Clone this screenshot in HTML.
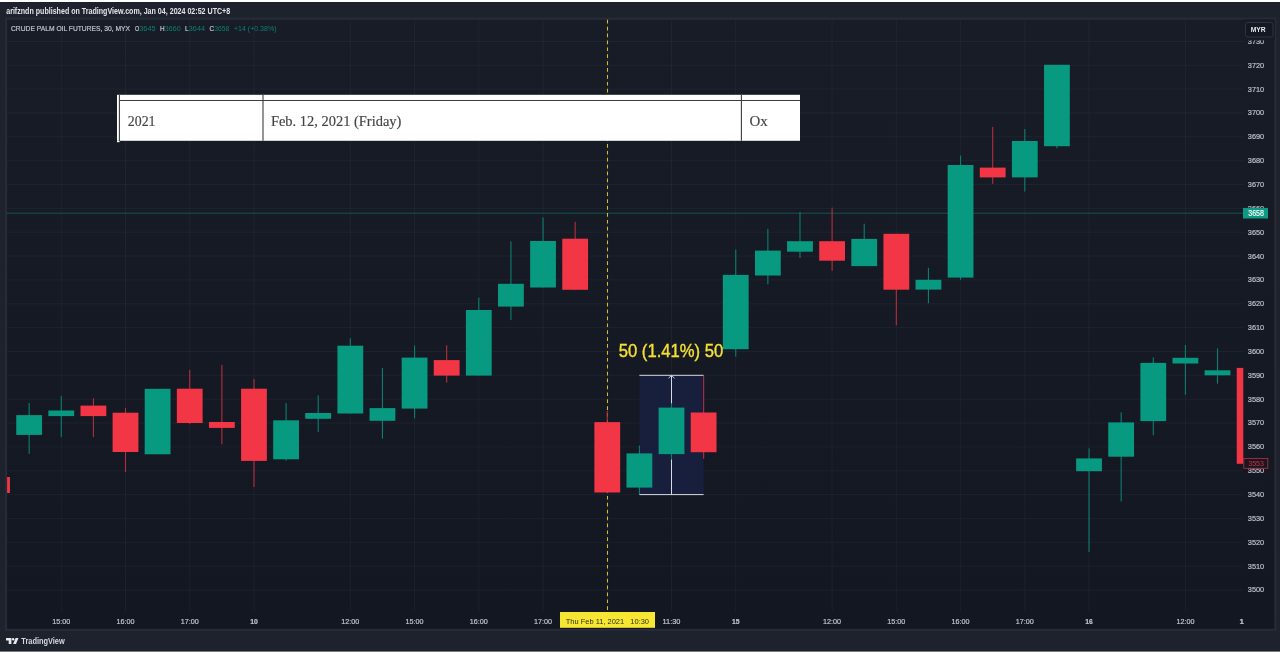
<!DOCTYPE html>
<html lang="en"><head><meta charset="utf-8"><title>CRUDE PALM OIL FUTURES chart</title>
<style>html,body{margin:0;padding:0;background:#fff;width:1280px;height:654px;overflow:hidden}svg{display:block;will-change:transform}text{font-family:"Liberation Sans",sans-serif}.ser{font-family:"Liberation Serif",serif}</style></head><body>
<svg width="1280" height="654" viewBox="0 0 1280 654">
<rect x="0" y="2" width="1280" height="649.6" fill="#1e222d"/>
<defs><linearGradient id="bgg" x1="0" y1="0" x2="0" y2="1"><stop offset="0" stop-color="#181c27"/><stop offset="1" stop-color="#131722"/></linearGradient></defs>
<rect x="6.1" y="18.8" width="1269.2" height="611.0" fill="url(#bgg)" stroke="#282c38" stroke-width="2"/>
<defs><clipPath id="cp"><rect x="7.1" y="19.8" width="1236.2" height="609.0"/></clipPath></defs>
<g stroke="#8a93b0" stroke-opacity="0.075" stroke-width="1">
<line x1="7.1" x2="1243.3" y1="590.0" y2="590.0"/>
<line x1="7.1" x2="1243.3" y1="566.1" y2="566.1"/>
<line x1="7.1" x2="1243.3" y1="542.3" y2="542.3"/>
<line x1="7.1" x2="1243.3" y1="518.4" y2="518.4"/>
<line x1="7.1" x2="1243.3" y1="494.6" y2="494.6"/>
<line x1="7.1" x2="1243.3" y1="470.8" y2="470.8"/>
<line x1="7.1" x2="1243.3" y1="446.9" y2="446.9"/>
<line x1="7.1" x2="1243.3" y1="423.0" y2="423.0"/>
<line x1="7.1" x2="1243.3" y1="399.2" y2="399.2"/>
<line x1="7.1" x2="1243.3" y1="375.3" y2="375.3"/>
<line x1="7.1" x2="1243.3" y1="351.5" y2="351.5"/>
<line x1="7.1" x2="1243.3" y1="327.6" y2="327.6"/>
<line x1="7.1" x2="1243.3" y1="303.8" y2="303.8"/>
<line x1="7.1" x2="1243.3" y1="279.9" y2="279.9"/>
<line x1="7.1" x2="1243.3" y1="256.1" y2="256.1"/>
<line x1="7.1" x2="1243.3" y1="232.2" y2="232.2"/>
<line x1="7.1" x2="1243.3" y1="208.4" y2="208.4"/>
<line x1="7.1" x2="1243.3" y1="184.5" y2="184.5"/>
<line x1="7.1" x2="1243.3" y1="160.7" y2="160.7"/>
<line x1="7.1" x2="1243.3" y1="136.8" y2="136.8"/>
<line x1="7.1" x2="1243.3" y1="113.0" y2="113.0"/>
<line x1="7.1" x2="1243.3" y1="89.1" y2="89.1"/>
<line x1="7.1" x2="1243.3" y1="65.3" y2="65.3"/>
<line x1="7.1" x2="1243.3" y1="41.5" y2="41.5"/>
<line x1="61.3" x2="61.3" y1="19.8" y2="611.3"/>
<line x1="125.5" x2="125.5" y1="19.8" y2="611.3"/>
<line x1="189.7" x2="189.7" y1="19.8" y2="611.3"/>
<line x1="254.0" x2="254.0" y1="19.8" y2="611.3"/>
<line x1="350.3" x2="350.3" y1="19.8" y2="611.3"/>
<line x1="414.6" x2="414.6" y1="19.8" y2="611.3"/>
<line x1="478.8" x2="478.8" y1="19.8" y2="611.3"/>
<line x1="543.0" x2="543.0" y1="19.8" y2="611.3"/>
<line x1="671.5" x2="671.5" y1="19.8" y2="611.3"/>
<line x1="735.7" x2="735.7" y1="19.8" y2="611.3"/>
<line x1="832.1" x2="832.1" y1="19.8" y2="611.3"/>
<line x1="896.3" x2="896.3" y1="19.8" y2="611.3"/>
<line x1="960.6" x2="960.6" y1="19.8" y2="611.3"/>
<line x1="1024.8" x2="1024.8" y1="19.8" y2="611.3"/>
<line x1="1089.0" x2="1089.0" y1="19.8" y2="611.3"/>
<line x1="1185.4" x2="1185.4" y1="19.8" y2="611.3"/>
<line x1="607.3" x2="607.3" y1="19.8" y2="611.3"/>
</g>
<line x1="6.6" x2="1243.3" y1="213.2" y2="213.2" stroke="#10554f" stroke-width="1"/>
<rect x="639.4" y="375.3" width="64.2" height="119.2" fill="#181f3d"/>
<line x1="607.5" x2="607.5" y1="19.8" y2="612" stroke="#d6bf2c" stroke-width="1.05" stroke-dasharray="3.7 3.2"/>
<g clip-path="url(#cp)">
<rect x="-15.87" y="477.0" width="25.8" height="16.0" fill="#f23645"/>
<rect x="28.60" y="403.0" width="1.1" height="50.8" fill="#0b7f6e"/>
<rect x="16.25" y="415.1" width="25.8" height="19.8" fill="#089981"/>
<rect x="60.72" y="395.8" width="1.1" height="41.3" fill="#0b7f6e"/>
<rect x="48.37" y="410.5" width="25.8" height="5.6" fill="#089981"/>
<rect x="92.84" y="398.2" width="1.1" height="38.9" fill="#b42e3c"/>
<rect x="80.49" y="405.6" width="25.8" height="10.5" fill="#f23645"/>
<rect x="124.95" y="408.0" width="1.1" height="64.1" fill="#b42e3c"/>
<rect x="112.60" y="412.7" width="25.8" height="39.3" fill="#f23645"/>
<rect x="144.72" y="388.8" width="25.8" height="65.5" fill="#089981"/>
<rect x="189.19" y="369.9" width="1.1" height="54.3" fill="#b42e3c"/>
<rect x="176.84" y="388.7" width="25.8" height="34.3" fill="#f23645"/>
<rect x="221.31" y="365.0" width="1.1" height="79.3" fill="#b42e3c"/>
<rect x="208.96" y="422.0" width="25.8" height="5.9" fill="#f23645"/>
<rect x="253.43" y="378.9" width="1.1" height="108.1" fill="#b42e3c"/>
<rect x="241.08" y="388.7" width="25.8" height="72.2" fill="#f23645"/>
<rect x="285.54" y="403.0" width="1.1" height="57.7" fill="#0b7f6e"/>
<rect x="273.19" y="420.3" width="25.8" height="39.0" fill="#089981"/>
<rect x="317.66" y="395.4" width="1.1" height="36.6" fill="#0b7f6e"/>
<rect x="305.31" y="413.0" width="25.8" height="5.8" fill="#089981"/>
<rect x="349.78" y="338.3" width="1.1" height="75.2" fill="#0b7f6e"/>
<rect x="337.43" y="345.7" width="25.8" height="67.8" fill="#089981"/>
<rect x="381.90" y="368.0" width="1.1" height="70.7" fill="#0b7f6e"/>
<rect x="369.55" y="408.1" width="25.8" height="12.7" fill="#089981"/>
<rect x="414.02" y="345.5" width="1.1" height="72.8" fill="#0b7f6e"/>
<rect x="401.67" y="357.6" width="25.8" height="51.0" fill="#089981"/>
<rect x="446.13" y="345.3" width="1.1" height="37.4" fill="#b42e3c"/>
<rect x="433.78" y="360.1" width="25.8" height="15.5" fill="#f23645"/>
<rect x="478.25" y="297.6" width="1.1" height="78.0" fill="#0b7f6e"/>
<rect x="465.90" y="310.0" width="25.8" height="65.6" fill="#089981"/>
<rect x="510.37" y="241.4" width="1.1" height="78.7" fill="#0b7f6e"/>
<rect x="498.02" y="283.8" width="25.8" height="22.8" fill="#089981"/>
<rect x="542.49" y="217.5" width="1.1" height="70.0" fill="#0b7f6e"/>
<rect x="530.14" y="241.0" width="25.8" height="46.5" fill="#089981"/>
<rect x="574.61" y="221.9" width="1.1" height="67.9" fill="#b42e3c"/>
<rect x="562.26" y="238.7" width="25.8" height="51.1" fill="#f23645"/>
<rect x="606.72" y="410.6" width="1.1" height="81.9" fill="#b42e3c"/>
<rect x="594.37" y="422.1" width="25.8" height="70.4" fill="#f23645"/>
<rect x="638.84" y="445.6" width="1.1" height="48.7" fill="#0b7f6e"/>
<rect x="626.49" y="453.4" width="25.8" height="34.2" fill="#089981"/>
<rect x="670.96" y="403.0" width="1.1" height="56.5" fill="#0b7f6e"/>
<rect x="658.61" y="407.6" width="25.8" height="46.5" fill="#089981"/>
<rect x="703.08" y="376.0" width="1.1" height="82.8" fill="#b42e3c"/>
<rect x="690.73" y="412.5" width="25.8" height="39.7" fill="#f23645"/>
<rect x="735.20" y="249.6" width="1.1" height="107.0" fill="#0b7f6e"/>
<rect x="722.85" y="274.9" width="25.8" height="74.3" fill="#089981"/>
<rect x="767.31" y="228.8" width="1.1" height="55.5" fill="#0b7f6e"/>
<rect x="754.96" y="250.6" width="25.8" height="24.9" fill="#089981"/>
<rect x="799.43" y="212.0" width="1.1" height="46.0" fill="#0b7f6e"/>
<rect x="787.08" y="241.2" width="25.8" height="10.5" fill="#089981"/>
<rect x="831.55" y="207.6" width="1.1" height="63.2" fill="#b42e3c"/>
<rect x="819.20" y="241.2" width="25.8" height="19.5" fill="#f23645"/>
<rect x="863.67" y="223.7" width="1.1" height="42.4" fill="#0b7f6e"/>
<rect x="851.32" y="238.9" width="25.8" height="27.2" fill="#089981"/>
<rect x="895.79" y="233.8" width="1.1" height="91.5" fill="#b42e3c"/>
<rect x="883.44" y="233.8" width="25.8" height="55.9" fill="#f23645"/>
<rect x="927.90" y="267.8" width="1.1" height="35.5" fill="#0b7f6e"/>
<rect x="915.55" y="279.8" width="25.8" height="9.8" fill="#089981"/>
<rect x="960.02" y="155.6" width="1.1" height="124.2" fill="#0b7f6e"/>
<rect x="947.67" y="165.0" width="25.8" height="112.6" fill="#089981"/>
<rect x="992.14" y="126.9" width="1.1" height="57.0" fill="#b42e3c"/>
<rect x="979.79" y="167.6" width="25.8" height="9.8" fill="#f23645"/>
<rect x="1024.26" y="129.0" width="1.1" height="62.6" fill="#0b7f6e"/>
<rect x="1011.91" y="141.0" width="25.8" height="36.4" fill="#089981"/>
<rect x="1056.38" y="64.8" width="1.1" height="83.5" fill="#0b7f6e"/>
<rect x="1044.03" y="64.8" width="25.8" height="81.4" fill="#089981"/>
<rect x="1088.49" y="448.3" width="1.1" height="103.6" fill="#0b7f6e"/>
<rect x="1076.14" y="458.4" width="25.8" height="12.8" fill="#089981"/>
<rect x="1120.61" y="412.3" width="1.1" height="89.2" fill="#0b7f6e"/>
<rect x="1108.26" y="422.4" width="25.8" height="34.3" fill="#089981"/>
<rect x="1152.73" y="357.5" width="1.1" height="77.7" fill="#0b7f6e"/>
<rect x="1140.38" y="362.9" width="25.8" height="58.2" fill="#089981"/>
<rect x="1184.85" y="345.0" width="1.1" height="49.8" fill="#0b7f6e"/>
<rect x="1172.50" y="357.8" width="25.8" height="5.7" fill="#089981"/>
<rect x="1216.97" y="348.4" width="1.1" height="35.3" fill="#0b7f6e"/>
<rect x="1204.62" y="370.3" width="25.8" height="5.0" fill="#089981"/>
<rect x="1236.73" y="367.9" width="25.8" height="95.9" fill="#f23645"/>
</g>
<g stroke="#d9dbe0" stroke-width="1" fill="none"><line x1="639.4" x2="703.6" y1="375.3" y2="375.3"/><line x1="639.4" x2="703.6" y1="494.6" y2="494.6"/><line x1="671.5" x2="671.5" y1="375.3" y2="403.3"/><line x1="671.5" x2="671.5" y1="459.5" y2="494.6"/><path d="M668.5 378.3 L671.5 375.3 L674.5 378.3"/></g>
<text x="671" y="356.6" font-size="17.6" fill="#f5e033" stroke="#f5e033" stroke-width="0.35" text-anchor="middle" textLength="104.6" lengthAdjust="spacingAndGlyphs">50 (1.41%) 50</text>
<g font-size="8.1" fill="#bdc0c9" stroke="#bdc0c9" stroke-width="0.2" text-anchor="middle">
<text x="1256" y="592.4" textLength="16.4" lengthAdjust="spacingAndGlyphs">3500</text>
<text x="1256" y="568.5" textLength="16.4" lengthAdjust="spacingAndGlyphs">3510</text>
<text x="1256" y="544.7" textLength="16.4" lengthAdjust="spacingAndGlyphs">3520</text>
<text x="1256" y="520.8" textLength="16.4" lengthAdjust="spacingAndGlyphs">3530</text>
<text x="1256" y="497.0" textLength="16.4" lengthAdjust="spacingAndGlyphs">3540</text>
<text x="1256" y="473.1" textLength="16.4" lengthAdjust="spacingAndGlyphs">3550</text>
<text x="1256" y="449.3" textLength="16.4" lengthAdjust="spacingAndGlyphs">3560</text>
<text x="1256" y="425.4" textLength="16.4" lengthAdjust="spacingAndGlyphs">3570</text>
<text x="1256" y="401.6" textLength="16.4" lengthAdjust="spacingAndGlyphs">3580</text>
<text x="1256" y="377.7" textLength="16.4" lengthAdjust="spacingAndGlyphs">3590</text>
<text x="1256" y="353.9" textLength="16.4" lengthAdjust="spacingAndGlyphs">3600</text>
<text x="1256" y="330.0" textLength="16.4" lengthAdjust="spacingAndGlyphs">3610</text>
<text x="1256" y="306.2" textLength="16.4" lengthAdjust="spacingAndGlyphs">3620</text>
<text x="1256" y="282.3" textLength="16.4" lengthAdjust="spacingAndGlyphs">3630</text>
<text x="1256" y="258.5" textLength="16.4" lengthAdjust="spacingAndGlyphs">3640</text>
<text x="1256" y="234.7" textLength="16.4" lengthAdjust="spacingAndGlyphs">3650</text>
<text x="1256" y="210.8" textLength="16.4" lengthAdjust="spacingAndGlyphs">3660</text>
<text x="1256" y="186.9" textLength="16.4" lengthAdjust="spacingAndGlyphs">3670</text>
<text x="1256" y="163.1" textLength="16.4" lengthAdjust="spacingAndGlyphs">3680</text>
<text x="1256" y="139.2" textLength="16.4" lengthAdjust="spacingAndGlyphs">3690</text>
<text x="1256" y="115.4" textLength="16.4" lengthAdjust="spacingAndGlyphs">3700</text>
<text x="1256" y="91.5" textLength="16.4" lengthAdjust="spacingAndGlyphs">3710</text>
<text x="1256" y="67.7" textLength="16.4" lengthAdjust="spacingAndGlyphs">3720</text>
<text x="1256" y="43.9" textLength="16.4" lengthAdjust="spacingAndGlyphs">3730</text>
</g>
<rect x="1243.3" y="19.2" width="31.5" height="21.1" fill="#181c27"/>
<rect x="1245.5" y="22.5" width="27.5" height="14.5" rx="2.5" fill="#141823" stroke="#2e3340" stroke-width="1"/>
<text x="1258.2" y="32.4" font-size="7.4" font-weight="bold" fill="#e6e8ee" text-anchor="middle" textLength="15" lengthAdjust="spacingAndGlyphs">MYR</text>
<rect x="1243" y="207.9" width="25" height="10.6" fill="#0d9b83"/>
<text x="1256.1" y="215.9" font-size="8.2" fill="#ffffff" stroke="#fff" stroke-width="0.15" text-anchor="middle" textLength="15.8" lengthAdjust="spacingAndGlyphs">3658</text>
<rect x="1243.8" y="458.5" width="24" height="9.8" fill="#141823" stroke="#b32a3a" stroke-width="0.9"/>
<text x="1256.1" y="466.3" font-size="8" fill="#d83043" text-anchor="middle" textLength="15.8" lengthAdjust="spacingAndGlyphs">3553</text>
<g font-size="8" fill="#c3c6ce" stroke="#c3c6ce" stroke-width="0.2" text-anchor="middle">
<text x="61.3" y="623.9" textLength="18" lengthAdjust="spacingAndGlyphs">15:00</text>
<text x="125.5" y="623.9" textLength="18" lengthAdjust="spacingAndGlyphs">16:00</text>
<text x="189.7" y="623.9" textLength="18" lengthAdjust="spacingAndGlyphs">17:00</text>
<text x="254.0" y="623.9" font-weight="bold" textLength="7.6" lengthAdjust="spacingAndGlyphs">10</text>
<text x="350.3" y="623.9" textLength="18" lengthAdjust="spacingAndGlyphs">12:00</text>
<text x="414.6" y="623.9" textLength="18" lengthAdjust="spacingAndGlyphs">15:00</text>
<text x="478.8" y="623.9" textLength="18" lengthAdjust="spacingAndGlyphs">16:00</text>
<text x="543.0" y="623.9" textLength="18" lengthAdjust="spacingAndGlyphs">17:00</text>
<text x="671.5" y="623.9" textLength="18" lengthAdjust="spacingAndGlyphs">11:30</text>
<text x="735.7" y="623.9" font-weight="bold" textLength="7.6" lengthAdjust="spacingAndGlyphs">15</text>
<text x="832.1" y="623.9" textLength="18" lengthAdjust="spacingAndGlyphs">12:00</text>
<text x="896.3" y="623.9" textLength="18" lengthAdjust="spacingAndGlyphs">15:00</text>
<text x="960.6" y="623.9" textLength="18" lengthAdjust="spacingAndGlyphs">16:00</text>
<text x="1024.8" y="623.9" textLength="18" lengthAdjust="spacingAndGlyphs">17:00</text>
<text x="1089.0" y="623.9" font-weight="bold" textLength="7.6" lengthAdjust="spacingAndGlyphs">16</text>
<text x="1185.4" y="623.9" textLength="18" lengthAdjust="spacingAndGlyphs">12:00</text>
<text x="1241.7" y="623.9" font-weight="bold">1</text>
</g>
<rect x="560" y="612" width="95" height="15.8" fill="#f7e733"/>
<text x="565.8" y="624.2" font-size="8" fill="#2e2c14" textLength="83.2" lengthAdjust="spacingAndGlyphs" style="white-space:pre">Thu Feb 11, 2021   10:30</text>
<text x="6.2" y="13.6" font-size="8.5" font-weight="bold" fill="#e2e4ea" textLength="224" lengthAdjust="spacingAndGlyphs">arifzndn published on TradingView.com, Jan 04, 2024 02:52 UTC+8</text>
<text x="11" y="30.7" font-size="8" fill="#c3c6ce" stroke="#c3c6ce" stroke-width="0.2" textLength="119" lengthAdjust="spacingAndGlyphs">CRUDE PALM OIL FUTURES, 30, MYX</text>
<text x="135" y="30.7" font-size="8" fill="#c3c6ce" stroke="#c3c6ce" stroke-width="0.2" textLength="4.3" lengthAdjust="spacingAndGlyphs">O</text>
<text x="139.3" y="30.7" font-size="8" fill="#089981" stroke="#089981" stroke-width="0.2" opacity="0.8" stroke-opacity="0" textLength="16.2" lengthAdjust="spacingAndGlyphs">3645</text>
<text x="160" y="30.7" font-size="8" fill="#c3c6ce" stroke="#c3c6ce" stroke-width="0.2" textLength="4.6" lengthAdjust="spacingAndGlyphs">H</text>
<text x="164.8" y="30.7" font-size="8" fill="#089981" stroke="#089981" stroke-width="0.2" opacity="0.8" stroke-opacity="0" textLength="15.8" lengthAdjust="spacingAndGlyphs">3660</text>
<text x="185" y="30.7" font-size="8" fill="#c3c6ce" stroke="#c3c6ce" stroke-width="0.2" textLength="3.6" lengthAdjust="spacingAndGlyphs">L</text>
<text x="188.8" y="30.7" font-size="8" fill="#089981" stroke="#089981" stroke-width="0.2" opacity="0.8" stroke-opacity="0" textLength="16.2" lengthAdjust="spacingAndGlyphs">3644</text>
<text x="209.5" y="30.7" font-size="8" fill="#c3c6ce" stroke="#c3c6ce" stroke-width="0.2" textLength="4.6" lengthAdjust="spacingAndGlyphs">C</text>
<text x="214.2" y="30.7" font-size="8" fill="#089981" stroke="#089981" stroke-width="0.2" opacity="0.8" stroke-opacity="0" textLength="15" lengthAdjust="spacingAndGlyphs">3658</text>
<text x="234" y="30.7" font-size="8" fill="#089981" stroke="#089981" stroke-width="0.2" opacity="0.8" stroke-opacity="0" textLength="42.5" lengthAdjust="spacingAndGlyphs">+14 (+0.38%)</text>
<rect x="117" y="94.8" width="683" height="46" fill="#ffffff"/>
<rect x="117" y="140.8" width="2.5" height="1.4" fill="#ffffff"/>
<g stroke="#3c3c3c" stroke-width="1.1"><line x1="119.4" x2="119.4" y1="95" y2="141"/><line x1="263" x2="263" y1="95" y2="140.8"/><line x1="741.4" x2="741.4" y1="95" y2="140.8"/><line x1="119.4" x2="800" y1="100.5" y2="100.5"/></g>
<g class="ser" font-size="14" fill="#444" stroke="#444" stroke-width="0.15">
<text class="ser" x="127.8" y="125.8" textLength="27.7" lengthAdjust="spacingAndGlyphs">2021</text>
<text class="ser" x="270.9" y="125.8" textLength="130.5" lengthAdjust="spacingAndGlyphs">Feb. 12, 2021 (Friday)</text>
<text class="ser" x="749.5" y="125.8" textLength="18.3" lengthAdjust="spacingAndGlyphs">Ox</text>
</g>
<g fill="#e8eaee"><path d="M6 638 h5.4 v6 h-2.7 v-3.5 h-2.7z"/><circle cx="13.1" cy="639.2" r="1.25"/><path d="M15.6 638 h2.9 l-2.5 6 h-2.9z"/></g>
<text x="21.3" y="644.2" font-size="8.6" font-weight="bold" fill="#d5d8df" textLength="43.4" lengthAdjust="spacingAndGlyphs">TradingView</text>
</svg></body></html>
